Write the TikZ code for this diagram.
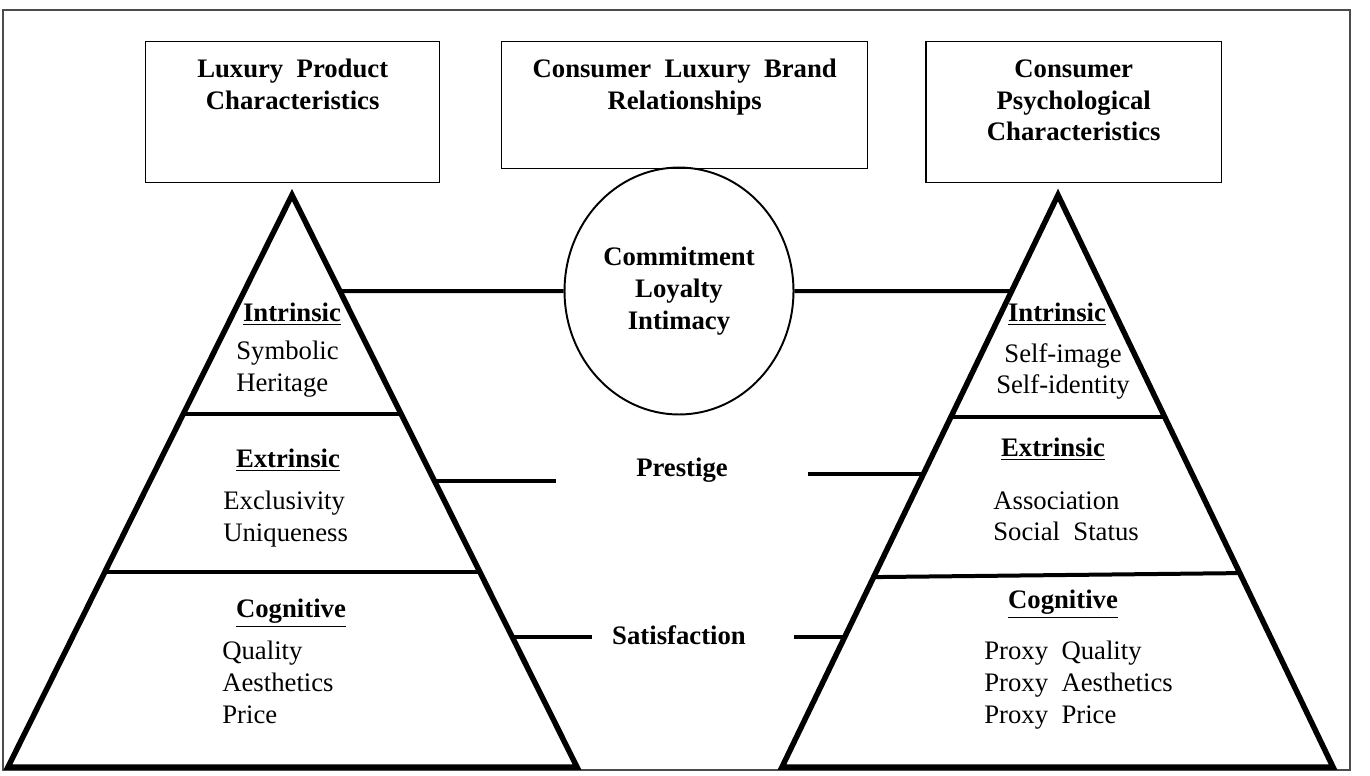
\documentclass[tikz,border=0pt]{standalone}
\usepackage{fontspec}
\setmainfont{Liberation Serif}
\usetikzlibrary{positioning,shapes.geometric,calc}

\begin{document}
\begin{tikzpicture}[
x=0.02cm, y=-0.02cm,
font=\fontsize{15.2}{18}\selectfont,
headbox/.style={draw, line width=0.85pt, anchor=north west, inner sep=0pt},
headtext/.style={font=\fontsize{15.2}{18}\selectfont\bfseries, align=center, inner sep=0pt},
pyramid/.style={line width=0.11cm, line join=miter},
tier/.style={line width=0.08cm},
link/.style={line width=0.08cm},
level/.style={font=\fontsize{15.2}{18}\selectfont\bfseries, inner sep=0pt},
items/.style={align=left, anchor=north west, inner sep=0pt},
relnode/.style={font=\fontsize{15.2}{18}\selectfont\bfseries, align=center}
]
\useasboundingbox (0,0) rectangle (1370,775);
\draw[line width=0.8pt, black!70] (3,10) rectangle (1350,770);

\node[headbox, minimum width=5.88cm, minimum height=2.82cm] (lpc) at (145,41) {};
\node[headtext, below=0.35cm of lpc.north] (lpct) {Luxury\ \ Product\\Characteristics};
\node[headbox, minimum width=7.32cm, minimum height=2.54cm] (clbr) at (501,41) {};
\node[headtext, below=0.35cm of clbr.north] (clbrt) {Consumer\ \ Luxury\ \ Brand\\Relationships};
\node[headbox, minimum width=5.92cm, minimum height=2.82cm] (cpc) at (925,41) {};
\node[headtext, below=0.37cm of cpc.north] (cpct) {Consumer\\Psychological\\Characteristics};

\coordinate (la) at (292,195);
\coordinate (lbl) at (8,767);
\coordinate (lbr) at (577,767);
\draw[pyramid] (la) -- (lbr) -- (lbl) -- cycle;
\draw[tier] ($(la)!0.383!(lbl)$) -- ($(la)!0.383!(lbr)$);
\draw[tier] ($(la)!0.659!(lbl)$) -- ($(la)!0.659!(lbr)$);

\coordinate (ra) at (1058,195);
\coordinate (rbl) at (782,767);
\coordinate (rbr) at (1333,767);
\draw[pyramid] (ra) -- (rbr) -- (rbl) -- cycle;
\draw[tier] ($(ra)!0.388!(rbl)$) -- ($(ra)!0.388!(rbr)$);
\draw[tier] ($(ra)!0.668!(rbl)$) -- ($(ra)!0.661!(rbr)$);

\node[level] (lint) at (292,314) {\underline{Intrinsic}};
\node[items] (lintx) at (236,341) {Symbolic\\Heritage};
\node[level] (lext) at (288,460) {\underline{Extrinsic}};
\node[items] (lextx) at (223,491) {Exclusivity\\Uniqueness};
\node[level] (lcog) at (291,613) {\underline{Cognitive}};
\node[items] (lcogx) at (222,641) {Quality\\Aesthetics\\Price};

\node[level] (rint) at (1057,314) {\underline{Intrinsic}};
\node[items, align=center, anchor=north] (rintx) at (1063,343) {Self-image\\Self-identity};
\node[level] (rext) at (1053,449) {\underline{Extrinsic}};
\node[items] (rextx) at (993,491) {Association\\Social\ \ Status};
\node[level] (rcog) at (1063,604) {\underline{Cognitive}};
\node[items] (rcogx) at (984,641) {Proxy\ \ Quality\\Proxy\ \ Aesthetics\\Proxy\ \ Price};

\node[relnode, draw, ellipse, line width=1.1pt, inner sep=0pt, minimum width=4.58cm, minimum height=4.94cm] (rel) at (679,291) {Commitment\\Loyalty\\Intimacy};
\node[relnode, minimum width=5.02cm, minimum height=1.22cm] (prest) at (682,470) {Prestige};
\node[relnode, minimum width=3.48cm] (sat) at (679,635) {Satisfaction};

\coordinate (lcom) at ($(la)!0.168!(lbr)$);
\coordinate (rcom) at ($(ra)!0.168!(rbl)$);
\coordinate (lpre) at ($(la)!0.5!(lbr)$);
\coordinate (rpre) at ($(ra)!0.488!(rbl)$);
\coordinate (lsat) at ($(la)!0.773!(lbr)$);
\coordinate (rsat) at ($(ra)!0.773!(rbl)$);
\draw[link] (lcom) -- (rel.west);
\draw[link] (rel.east) -- (rcom);
\draw[link] (lpre) -- (lpre -| prest.west);
\draw[link] (prest.east |- rpre) -- (rpre);
\draw[link] (lsat) -- (lsat -| sat.west);
\draw[link] ([xshift=0.56cm]sat.east |- rsat) -- (rsat);
\end{tikzpicture}
\end{document}
